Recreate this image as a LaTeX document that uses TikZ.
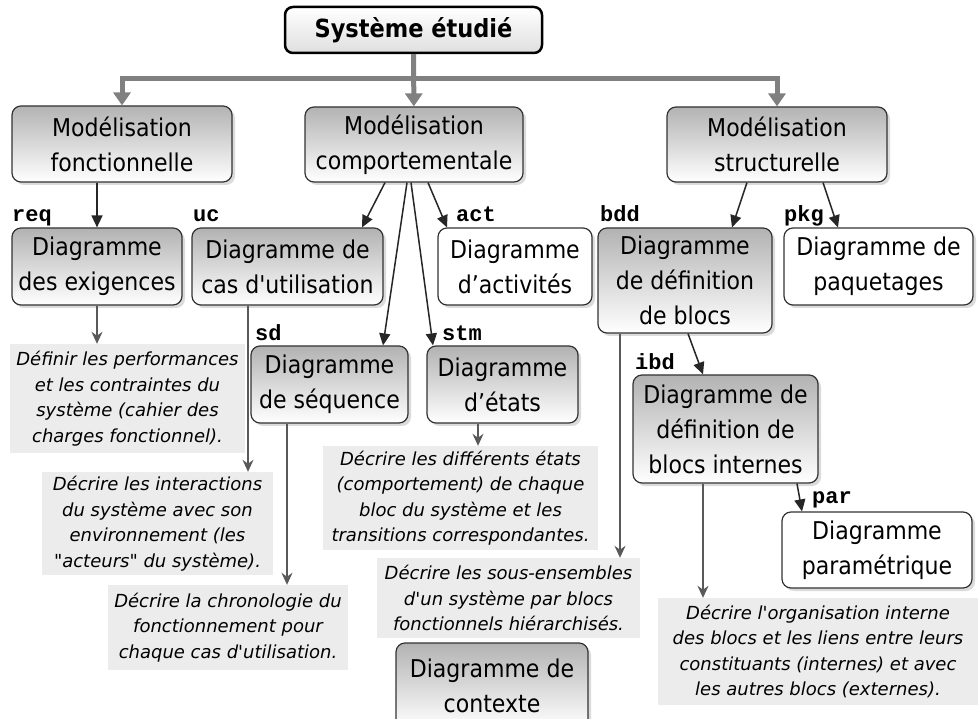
\documentclass[tikz,border=0pt]{standalone}
\usepackage{fontspec}
\setmainfont{DejaVu Sans}
\newfontfamily\condfont{DejaVu Sans Condensed}
\setmonofont{Liberation Mono}
\usetikzlibrary{arrows.meta,shadows}

\begin{document}
\begin{tikzpicture}[x=1pt,y=-1pt,
  titlebox/.style={draw=black, line width=2.5pt, rounded corners=8pt, top color=white, bottom color=gray!25,
    inner sep=0pt, font=\condfont\bfseries\fontsize{25}{30}\selectfont},
  base/.style={rounded corners=9pt, draw=black!80, line width=1.2pt, align=center, inner sep=0pt,
    font=\condfont\fontsize{24.5}{35}\selectfont,
    drop shadow={shadow xshift=3pt, shadow yshift=-3pt, fill=gray!55}},
  diag/.style={base, top color=gray!60, bottom color=white},
  plain/.style={base, fill=white},
  desc/.style={fill=gray!15, inner sep=0pt, align=center, font=\itshape\fontsize{18}{25.5}\selectfont},
  tag/.style={anchor=base west, inner sep=0pt, font=\ttfamily\bfseries\fontsize{22}{22}\selectfont},
  main/.style={draw=gray, line width=5pt, -{Triangle[length=13pt,width=17pt]}},
  link/.style={draw=black!85, line width=1.5pt, -{Triangle[length=12pt,width=11pt]}},
  note/.style={draw=black!65, line width=1.2pt, -{Stealth[length=12pt,width=11pt]}}]
\useasboundingbox[fill=white] (0,0) rectangle (978,719);

\node[titlebox, minimum width=257pt, minimum height=46pt] (sys) at (413.5,30) {Système étudié};

\node[diag, minimum width=220pt, minimum height=76pt] (fct) at (122,144) {Modélisation\\fonctionnelle};
\node[diag, minimum width=218pt, minimum height=75pt] (beh) at (414,144.5) {Modélisation\\comportementale};
\node[diag, minimum width=220pt, minimum height=75pt] (str) at (777,144.5) {Modélisation\\structurelle};

\node[diag, minimum width=170pt, minimum height=77pt] (req) at (97,266.5) {Diagramme\\des exigences};
\node[diag, minimum width=191pt, minimum height=77pt] (uc) at (287.5,266.5) {Diagramme de\\cas d\textquotesingle utilisation};
\node[plain, minimum width=154pt, minimum height=77pt] (act) at (515,266.5) {Diagramme\\d’activités};
\node[diag, minimum width=174pt, minimum height=105pt] (bdd) at (685,280.5) {Diagramme\\de définition\\de blocs};
\node[plain, minimum width=189pt, minimum height=77pt] (pkg) at (878.5,266.5) {Diagramme de\\paquetages};
\node[diag, minimum width=157pt, minimum height=77pt] (sd) at (329.5,384.5) {Diagramme\\de séquence};
\node[diag, minimum width=151pt, minimum height=77pt] (stm) at (502.5,384.5) {Diagramme\\d’états};
\node[diag, minimum width=185pt, minimum height=108pt] (ibd) at (725.5,429) {Diagramme de\\définition de\\blocs internes};
\node[plain, minimum width=190pt, minimum height=76pt] (par) at (877,550) {Diagramme\\paramétrique};
\node[diag, minimum width=192pt, minimum height=85pt] (ctx) at (492,685.5) {Diagramme de\\contexte};

\node[tag] (treq) at (12,222) {req};
\node[tag] (tuc) at (193,222) {uc};
\node[tag] (tact) at (456,222) {act};
\node[tag] (tbdd) at (600,222) {bdd};
\node[tag] (tpkg) at (784,222) {pkg};
\node[tag] (tsd) at (255,341) {sd};
\node[tag] (tstm) at (442,341) {stm};
\node[tag] (tibd) at (635,370) {ibd};
\node[tag] (tpar) at (812,503) {par};

\node[desc, minimum width=235pt, minimum height=109pt] (dreq) at (127.5,398.5) {Définir les performances\\et les contraintes du\\système (cahier des\\charges fonctionnel).};
\node[desc, minimum width=231pt, minimum height=103pt] (duc) at (157.5,523.5) {Décrire les interactions\\du système avec son\\environnement (les\\\textquotedbl acteurs\textquotedbl\ du système).};
\node[desc, minimum width=240pt, minimum height=85pt] (dsd) at (228,627.5) {Décrire la chronologie du\\fonctionnement pour\\chaque cas d\textquotesingle utilisation.};
\node[desc, minimum width=275pt, minimum height=104pt] (dstm) at (460.5,498) {Décrire les différents états\\(comportement) de chaque\\bloc du système et les\\transitions correspondantes.};
\node[desc, minimum width=263pt, minimum height=80pt] (dbdd) at (508.5,598) {Décrire les sous-ensembles\\d\textquotesingle un système par blocs\\fonctionnels hiérarchisés.};
\node[desc, minimum width=320pt, minimum height=107pt] (dibd) at (818,651.5) {Décrire l\textquotesingle organisation interne\\des blocs et les liens entre leurs\\constituants (internes) et avec\\les autres blocs (externes).};

\draw[main] (sys) -- (beh);
\draw[main] (sys.south) -- ++(0,24) -| (fct.north);
\draw[main] (sys.south) -- ++(0,24) -| (str.north);

\draw[link] ([xshift=-25pt]fct.south) -- (req.north);
\draw[link] ([xshift=-29pt]beh.south) -- ([xshift=74.5pt]uc.north);
\draw[link] ([xshift=14pt]beh.south) -- ([xshift=-68pt]act.north);
\draw[link] ([xshift=-7pt]beh.south) -- ([xshift=53.5pt]sd.north);
\draw[link] ([xshift=-3pt]beh.south) -- ([xshift=-69.5pt]stm.north);
\draw[link] ([xshift=-30pt]str.south) -- ([xshift=47pt]bdd.north);
\draw[link] ([xshift=46pt]str.south) -- ([xshift=-40.5pt]pkg.north);
\draw[link] ([xshift=3pt]bdd.south) -- ([xshift=-22.5pt]ibd.north);
\draw[link] ([xshift=71.5pt]ibd.south) -- ([xshift=-75pt]par.north);

\draw[note] (req.south) -- ([xshift=-30.5pt]dreq.north);
\draw[note] ([xshift=-39.5pt]uc.south) -- ([xshift=90.5pt]duc.north);
\draw[note] ([xshift=-42.5pt]sd.south) -- ([xshift=59pt]dsd.north);
\draw[note] ([xshift=-24.5pt]stm.south) -- ([xshift=17.5pt]dstm.north);
\draw[note] ([xshift=-65pt]bdd.south) -- ([xshift=111.5pt]dbdd.north);
\draw[note] ([xshift=-22.5pt]ibd.south) -- ([xshift=-115pt]dibd.north);
\end{tikzpicture}
\end{document}
